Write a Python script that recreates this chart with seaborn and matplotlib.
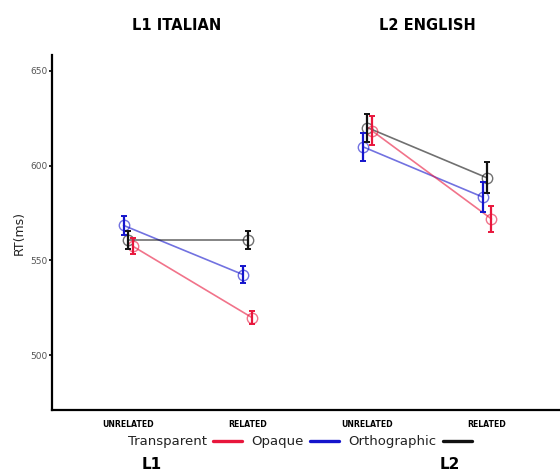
import numpy as np
import pandas as pd
import matplotlib
matplotlib.use("Agg")
import matplotlib.pyplot as plt
import matplotlib.colors as mcolors
from matplotlib.lines import Line2D
import seaborn as sns

# ---------------- data ----------------
languages = ["L1", "L2"]
panel_titles = ["L1 ITALIAN", "L2 ENGLISH"]
conditions = ["UNRELATED", "RELATED"]
series = ["Transparent", "Opaque", "Orthographic"]

transparent_rt = [557.5, 519.7, 618.4, 571.8]
transparent_err = [4.1, 3.5, 7.5, 7.0]
opaque_rt = [568.4, 542.4, 609.9, 583.4]
opaque_err = [5.0, 4.6, 7.3, 8.1]
orthographic_rt = [560.6, 560.6, 620.0, 593.5]
orthographic_err = [4.6, 4.8, 7.4, 8.2]

yticks = [500, 550, 600, 650]

# ---------------- style ----------------
sns.set_style("white")
plt.rcParams["font.family"] = ["DejaVu Sans"]
plt.rcParams["text.color"] = "black"

colors = {"Transparent": "#e8163c", "Opaque": "#1414cc", "Orthographic": "#111111"}
hue_order = ["Opaque", "Orthographic", "Transparent"]  # dodge order left->right

values = {"Transparent": (transparent_rt, transparent_err),
          "Opaque": (opaque_rt, opaque_err),
          "Orthographic": (orthographic_rt, orthographic_err)}

rows = []
for s in series:
    rts, errs = values[s]
    k = 0
    for lang in languages:
        for cond in conditions:
            rows.append({"language": lang, "cond": f"{lang} {cond}", "series": s,
                         "rt": rts[k], "err": errs[k]})
            k += 1
df = pd.DataFrame(rows)
order = [f"{l} {c}" for l in languages for c in conditions]

fig = plt.figure(figsize=(5.6, 4.71), dpi=100)
ax = fig.add_axes([0.093, 0.1295, 0.907, 0.7537])

hex_to_series = {mcolors.to_hex(c): s for s, c in colors.items()}

for lang in languages:
    sub = df[df.language == lang]
    n_before = len(ax.lines)
    sns.pointplot(data=sub, x="cond", y="rt", hue="series", order=order,
                  hue_order=hue_order, palette=colors, dodge=True, errorbar=None,
                  markers="o", linestyles="-", ax=ax, legend=False,
                  markerfacecolor="none", markersize=7.5, markeredgewidth=1.0,
                  linewidth=1.2, alpha=0.6)
    present = [o for o in order if o in set(sub.cond)]
    for line in ax.lines[n_before:]:
        s = hex_to_series.get(mcolors.to_hex(line.get_color()))
        if s is None:
            continue
        ss = sub[sub.series == s].set_index("cond").reindex(present)
        xs = np.asarray(line.get_xdata(), dtype=float)
        ax.errorbar(xs, ss["rt"].values, yerr=ss["err"].values, fmt="none",
                    ecolor=colors[s], elinewidth=1.6, capsize=2.0, capthick=1.4,
                    zorder=4)

ax.set_xlim(-0.635, 3.61)
ax.set_ylim(471, 658.3)
ax.set_yticks(yticks)
ax.set_yticklabels([str(t) for t in yticks], fontsize=6.5, color="#555555")
ax.set_xticks(range(len(order)))
ax.set_xticklabels([c for l in languages for c in conditions],
                   fontsize=5.6, fontweight="bold", color="black")
ax.tick_params(axis="x", length=0, pad=7)
ax.tick_params(axis="y", direction="out", length=2.5, width=1.4, pad=1, left=True)
ax.set_xlabel("")
ax.set_ylabel("RT(ms)", fontsize=9, labelpad=3, color="#222222")
for side in ["top", "right"]:
    ax.spines[side].set_visible(False)
for side in ["left", "bottom"]:
    ax.spines[side].set_color("black")
    ax.spines[side].set_linewidth(1.6)

# titles
fig.text(177 / 560, 1 - 25 / 471, panel_titles[0], ha="center", va="center",
         fontsize=10.5, fontweight="bold", color="black")
fig.text(427 / 560, 1 - 25 / 471, panel_titles[1], ha="center", va="center",
         fontsize=10.5, fontweight="bold", color="black")

# bottom group labels
fig.text(152 / 560, 2 / 471, languages[0], ha="center", va="baseline",
         fontsize=11, fontweight="bold", color="black")
fig.text(450 / 560, 2 / 471, languages[1], ha="center", va="baseline",
         fontsize=11, fontweight="bold", color="black")

handles = [Line2D([], [], color=colors[s], lw=2.4) for s in series]
fig.legend(handles, series, loc="center", bbox_to_anchor=(300 / 560, 1 - 442 / 471),
           ncol=3, frameon=False, markerfirst=False, handlelength=2.2,
           handletextpad=0.5, columnspacing=0.7, fontsize=9.5,
           labelcolor="#222222")

fig.savefig("out.png", dpi=100)
